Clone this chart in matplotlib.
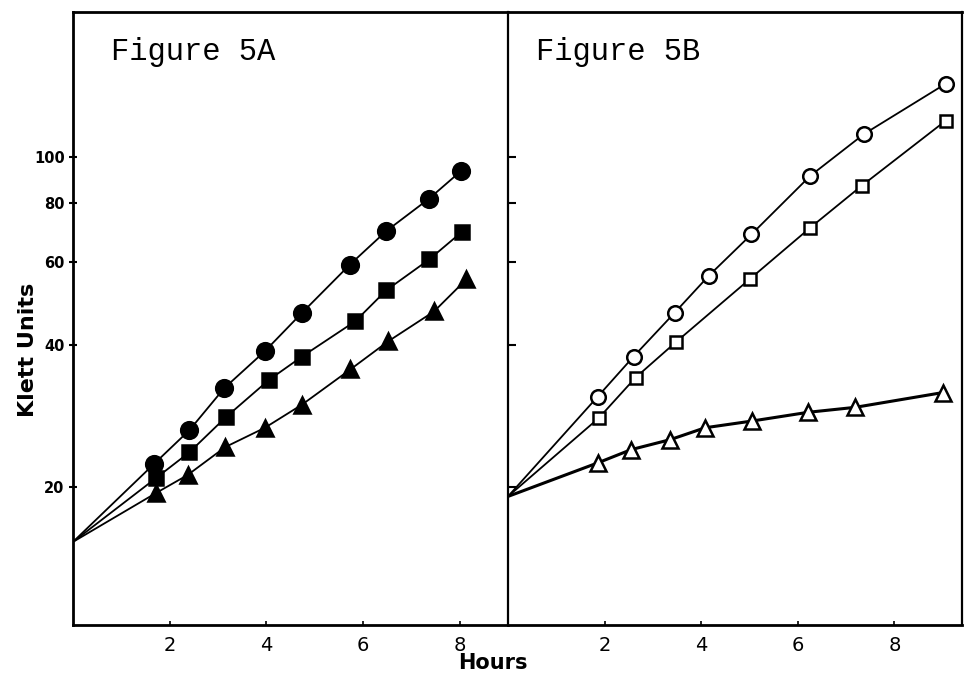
import numpy as np
import matplotlib.pyplot as plt
from matplotlib.ticker import FixedLocator, NullLocator, FixedFormatter

# Figure 5A: three cultures, filled markers
start_a = 15.3
a_circle_h = [1.68, 2.41, 3.13, 3.97, 4.74, 5.73, 6.48, 7.37, 8.03]
a_circle_k = [22.4, 26.4, 32.4, 38.8, 46.8, 59.2, 69.7, 81.7, 93.5]
a_square_h = [1.72, 2.41, 3.16, 4.05, 4.74, 5.84, 6.48, 7.37, 8.05]
a_square_k = [20.9, 23.7, 28.1, 33.7, 37.8, 44.9, 52.2, 60.7, 69.5]
a_tri_h = [1.71, 2.37, 3.15, 3.97, 4.74, 5.74, 6.52, 7.47, 8.14]
a_tri_k = [19.4, 21.2, 24.3, 26.7, 29.9, 35.5, 40.7, 47.1, 55.1]

# Figure 5B: open markers
start_b = 19.1
b_circle_h = [1.86, 2.60, 3.45, 4.16, 5.04, 6.26, 7.37, 9.06]
b_circle_k = [31.1, 37.8, 46.8, 56.1, 68.6, 91.3, 111.9, 143]
b_square_h = [1.88, 2.64, 3.47, 5.01, 6.26, 7.32, 9.06]
b_square_k = [28.0, 34.1, 40.5, 55.2, 70.9, 86.9, 119.4]
b_tri_h = [1.86, 2.55, 3.36, 4.08, 5.06, 6.22, 7.19, 9.00]
b_tri_k = [22.5, 24.0, 25.2, 26.7, 27.6, 28.8, 29.5, 31.7]

y_ticks = [20, 40, 60, 80, 100]
y_labels = ['20', '40', '60', '80', '100']
x_ticks = [2, 4, 6, 8]

W, H = 970, 692
fig = plt.figure(figsize=(W / 100, H / 100), dpi=100)
axA = fig.add_axes([73 / W, 1 - 625 / H, (508 - 73) / W, (625 - 12) / H])
axB = fig.add_axes([508 / W, 1 - 625 / H, (962 - 508) / W, (625 - 12) / H])


def curve(ax, start, h, k, marker, ms, filled, lw=1.3):
    ax.plot(np.r_[0, h], np.r_[start, k], '-', color='black', lw=lw, zorder=2)
    ax.plot(h, k, linestyle='none', marker=marker, ms=ms,
            mfc='black' if filled else 'white', mec='black',
            mew=1.8, zorder=3)


curve(axA, start_a, a_circle_h, a_circle_k, 'o', 12, True)
curve(axA, start_a, a_square_h, a_square_k, 's', 9.5, True)
curve(axA, start_a, a_tri_h, a_tri_k, '^', 11, True)

curve(axB, start_b, b_circle_h, b_circle_k, 'o', 10.5, False)
curve(axB, start_b, b_square_h, b_square_k, 's', 8, False)
curve(axB, start_b, b_tri_h, b_tri_k, '^', 11, False, lw=2.2)

for ax in (axA, axB):
    ax.set_yscale('log')
    ax.set_ylim(10.2, 203)
    ax.yaxis.set_major_locator(FixedLocator(y_ticks))
    ax.yaxis.set_minor_locator(NullLocator())
    ax.xaxis.set_major_locator(FixedLocator(x_ticks))
    ax.tick_params(axis='x', direction='in', length=3, width=1.2,
                   labelsize=14, pad=8)
    for s in ax.spines.values():
        s.set_linewidth(2)

axA.set_xlim(0, 9)
axB.set_xlim(0, 9.4)

axA.yaxis.set_major_formatter(FixedFormatter(y_labels))
axA.tick_params(axis='y', direction='inout', length=6, width=1.5,
                labelsize=10.5, pad=3)
for lab in axA.get_yticklabels():
    lab.set_fontweight('bold')
axA.spines['right'].set_visible(False)

axB.tick_params(axis='y', direction='in', length=6, width=1.5, labelleft=False)
axB.spines['left'].set_linewidth(1.6)
axB.spines['right'].set_linewidth(1.6)

mono = dict(family='Liberation Mono', fontsize=22, va='baseline', ha='left')
fig.text(111 / W, 1 - 60 / H, 'Figure 5A', **mono)
fig.text(536 / W, 1 - 60 / H, 'Figure 5B', **mono)

fig.text(28 / W, 1 - 350 / H, 'Klett Units', rotation=90, ha='center',
         va='center', fontsize=16, fontweight='bold')
fig.text(493 / W, 1 - 663 / H, 'Hours', ha='center', va='center',
         fontsize=15, fontweight='bold')

fig.savefig('out.png', dpi=100)
